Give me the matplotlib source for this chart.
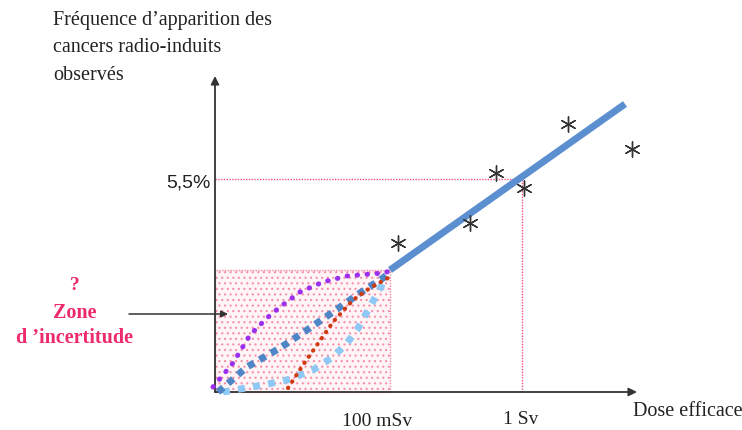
import matplotlib
matplotlib.use("Agg")
import matplotlib.pyplot as plt
from matplotlib.patches import Rectangle

# Coordinates: x = dose (schematic units), y = frequency (schematic units)
# Reference points (schematic)
dose_100mSv = 175
dose_1Sv = 307
freq_5_5 = 213
zone_top = 122

# Linear (observed) line
linear_x = [175, 410]
linear_y = [122, 288]

# Observed points (stars)
stars_x = [183, 255, 281, 309, 353, 417]
stars_y = [149, 169, 219, 204, 268, 243]

# Hypothetical low-dose curves
purple_x = [-2, 18, 35, 52, 65, 85, 108, 132, 168, 175]
purple_y = [5, 29, 57, 74, 85, 100, 110, 116, 119, 121]

blue_x = [3, 32, 65, 92, 118, 145, 168, 173]
blue_y = [0, 25, 44, 62, 80, 99, 114, 118]

red_x = [73, 88, 102, 118, 138, 155, 173]
red_y = [4, 27, 47, 70, 92, 104, 114]

lblue_x = [8, 48, 72, 98, 118, 132, 142, 157, 168, 172]
lblue_y = [0, 7, 12, 22, 35, 49, 62, 89, 109, 114]

fig = plt.figure(figsize=(7.42, 4.30), dpi=100)
ax = fig.add_axes([0, 0, 1, 1])
ax.set_xlim(-215, 527)
ax.set_ylim(-38, 392)
ax.axis("off")

pink = "#f0527c"
serif = ["Liberation Serif", "DejaVu Serif"]
plt.rcParams["hatch.linewidth"] = 0.8

# uncertainty zone
ax.add_patch(Rectangle((0, 0), dose_100mSv, zone_top, facecolor="#fff4f6",
                       edgecolor="#f690aa", hatch="...", lw=0, zorder=1))
ax.add_patch(Rectangle((0, 0), dose_100mSv, zone_top, facecolor="none",
                       edgecolor="#f58aa5", lw=1.0, ls=(0, (1, 1)), zorder=2))

# reference dotted lines
ax.plot([0, dose_1Sv], [freq_5_5, freq_5_5], color=pink, lw=1, ls=(0, (1, 1)), zorder=2)
ax.plot([dose_1Sv, dose_1Sv], [0, freq_5_5], color=pink, lw=1, ls=(0, (1, 1)), zorder=2)

# axes arrows
ax.annotate("", xy=(0, 316), xytext=(0, 0),
            arrowprops=dict(arrowstyle="-|>", color="#333333", lw=1.3,
                            mutation_scale=12, shrinkA=0, shrinkB=0), zorder=3)
ax.annotate("", xy=(422, 0), xytext=(0, 0),
            arrowprops=dict(arrowstyle="-|>", color="#333333", lw=1.3,
                            mutation_scale=12, shrinkA=0, shrinkB=0), zorder=3)

# curves
ax.plot(lblue_x, lblue_y, color="#8ec9f5", lw=5, ls=(0, (1, 1.2)),
        dash_capstyle="butt", zorder=4)
ax.plot(blue_x, blue_y, color="#4f86c6", lw=5, ls=(0, (1, 0.9)),
        dash_capstyle="butt", zorder=5)
ax.plot(red_x, red_y, color="#d03a10", lw=3, ls=(0, (0.1, 1.7)),
        dash_capstyle="round", zorder=6)
ax.plot(purple_x, purple_y, color="#9b30f0", lw=3.6, ls=(0, (0.1, 1.9)),
        dash_capstyle="round", zorder=6)

# linear line
ax.plot(linear_x, linear_y, color="#5b8fd0", lw=5, solid_capstyle="butt", zorder=7)

# stars
ax.scatter(stars_x, stars_y, marker=(6, 2, 0), s=120, color="#333333",
           linewidths=1.0, zorder=8)

# texts
tcol = "#222222"
ax.text(-162, 372, "Fréquence d\u2019apparition des", family=serif, fontsize=14.5,
        va="center", ha="left", color=tcol)
ax.text(-162, 344, "cancers radio-induits", family=serif, fontsize=14.5,
        va="center", ha="left", color=tcol)
ax.text(-162, 317, "observés", family=serif, fontsize=14.5,
        va="center", ha="left", color=tcol)

ax.text(-4, freq_5_5 - 4, "5,5%", family=["Liberation Sans", "DejaVu Sans"],
        fontsize=14, ha="right", va="center", color=tcol)

zone_col = "#ee2a6e"
ax.text(-140, 107, "?", family=serif, fontsize=14, ha="center", va="center",
        color=zone_col, fontweight="bold")
ax.text(-140, 79, "Zone", family=serif, fontsize=14.5, ha="center", va="center",
        color=zone_col, fontweight="bold")
ax.text(-140, 54, "d \u2019incertitude", family=serif, fontsize=14.5, ha="center",
        va="center", color=zone_col, fontweight="bold")
ax.annotate("", xy=(13, 78), xytext=(-86, 78),
            arrowprops=dict(arrowstyle="-|>", color="#333333", lw=1.1,
                            mutation_scale=10, shrinkA=0, shrinkB=0), zorder=3)

ax.text(162, -30, "100 mSv", family=serif, fontsize=14, ha="center",
        va="center", color=tcol)
ax.text(dose_1Sv - 1, -28, "1 Sv", family=serif, fontsize=14, ha="center",
        va="center", color=tcol)
ax.text(418, -20, "Dose efficace", family=serif, fontsize=14.5, ha="left",
        va="center", color=tcol)

fig.savefig("out.png", dpi=100)
